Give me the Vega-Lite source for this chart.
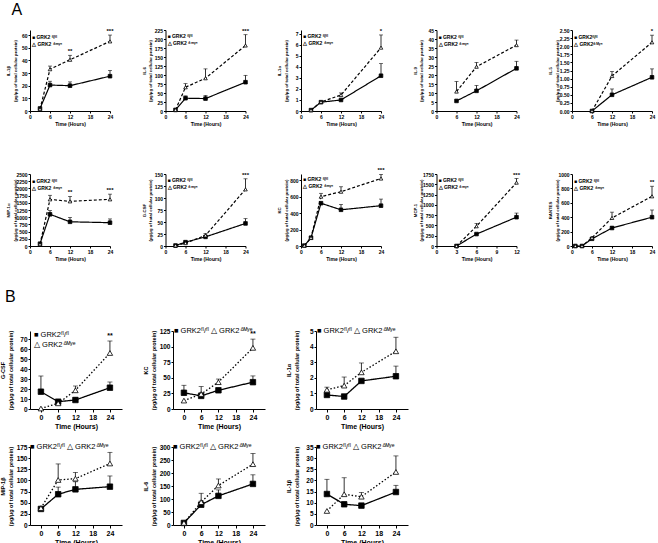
{
"$schema":"https://vega.github.io/schema/vega-lite/v6.json",
"padding":{"left":0,"top":1,"right":1,"bottom":1},
"data":{"values":[
{"p":"a1","g":"fl","t":3,"m":2},{"p":"a1","g":"fl","t":6,"m":20.5,"u":23.5},{"p":"a1","g":"fl","t":12,"m":20,"u":23},{"p":"a1","g":"fl","t":24,"m":27.5,"u":32},
{"p":"a1","g":"dm","t":3,"m":1.5},{"p":"a1","g":"dm","t":6,"m":33,"u":35.5},{"p":"a1","g":"dm","t":12,"m":40.5,"u":44,"s":"**"},{"p":"a1","g":"dm","t":24,"m":55,"u":60,"s":"***"},
{"p":"a2","g":"fl","t":3,"m":3},{"p":"a2","g":"fl","t":6,"m":35.5,"u":42},{"p":"a2","g":"fl","t":12,"m":34.5,"u":43},{"p":"a2","g":"fl","t":24,"m":80,"u":99},
{"p":"a2","g":"dm","t":3,"m":3},{"p":"a2","g":"dm","t":6,"m":66,"u":76},{"p":"a2","g":"dm","t":12,"m":91,"u":117},{"p":"a2","g":"dm","t":24,"m":182,"u":212,"s":"***"},
{"p":"a3","g":"fl","t":3,"m":0.08},{"p":"a3","g":"fl","t":6,"m":0.8},{"p":"a3","g":"fl","t":12,"m":1.0,"u":1.05},{"p":"a3","g":"fl","t":24,"m":3.2,"u":4.3},
{"p":"a3","g":"dm","t":3,"m":0.08},{"p":"a3","g":"dm","t":6,"m":0.82},{"p":"a3","g":"dm","t":12,"m":1.45,"u":1.64},{"p":"a3","g":"dm","t":24,"m":5.75,"u":6.9,"s":"*"},
{"p":"a4","g":"fl","t":6,"m":5.6},{"p":"a4","g":"fl","t":12,"m":11.2,"u":14.2},{"p":"a4","g":"fl","t":24,"m":23.7,"u":27.6},
{"p":"a4","g":"dm","t":6,"m":10.8,"u":16.4},{"p":"a4","g":"dm","t":12,"m":24.6,"u":27},{"p":"a4","g":"dm","t":24,"m":36.6,"u":39.4},
{"p":"a5","g":"fl","t":6,"m":0},{"p":"a5","g":"fl","t":12,"m":0.5,"u":0.68},{"p":"a5","g":"fl","t":24,"m":1.04,"u":1.3},
{"p":"a5","g":"dm","t":6,"m":0},{"p":"a5","g":"dm","t":12,"m":1.08,"u":1.22},{"p":"a5","g":"dm","t":24,"m":2.12,"u":2.34,"s":"*"},
{"p":"a6","g":"fl","t":3,"m":80},{"p":"a6","g":"fl","t":6,"m":1100,"u":1230},{"p":"a6","g":"fl","t":12,"m":840,"u":990},{"p":"a6","g":"fl","t":24,"m":810,"u":940},
{"p":"a6","g":"dm","t":3,"m":60},{"p":"a6","g":"dm","t":6,"m":1620,"u":1760},{"p":"a6","g":"dm","t":12,"m":1550,"u":1720,"s":"**"},{"p":"a6","g":"dm","t":24,"m":1620,"u":1800,"s":"***"},
{"p":"a7","g":"fl","t":3,"m":1},{"p":"a7","g":"fl","t":6,"m":8,"u":10},{"p":"a7","g":"fl","t":12,"m":19,"u":21},{"p":"a7","g":"fl","t":24,"m":47,"u":57},
{"p":"a7","g":"dm","t":3,"m":1},{"p":"a7","g":"dm","t":6,"m":6,"u":7},{"p":"a7","g":"dm","t":12,"m":22,"u":26},{"p":"a7","g":"dm","t":24,"m":118,"u":140,"s":"***"},
{"p":"a8","g":"fl","t":1,"m":5},{"p":"a8","g":"fl","t":3,"m":100},{"p":"a8","g":"fl","t":6,"m":520},{"p":"a8","g":"fl","t":12,"m":440,"u":505},{"p":"a8","g":"fl","t":24,"m":490,"u":570},
{"p":"a8","g":"dm","t":1,"m":5},{"p":"a8","g":"dm","t":3,"m":100,"u":120},{"p":"a8","g":"dm","t":6,"m":600,"u":640},{"p":"a8","g":"dm","t":12,"m":660,"u":720},{"p":"a8","g":"dm","t":24,"m":820,"u":870,"s":"***"},
{"p":"a9","g":"fl","t":3,"m":0},{"p":"a9","g":"fl","t":6,"m":290,"u":300},{"p":"a9","g":"fl","t":12,"m":700,"u":800},
{"p":"a9","g":"dm","t":3,"m":0},{"p":"a9","g":"dm","t":6,"m":480,"u":550},{"p":"a9","g":"dm","t":12,"m":1540,"u":1640,"s":"***"},
{"p":"a10","g":"fl","t":1,"m":0},{"p":"a10","g":"fl","t":3,"m":0},{"p":"a10","g":"fl","t":6,"m":100},{"p":"a10","g":"fl","t":12,"m":250,"u":270},{"p":"a10","g":"fl","t":24,"m":400,"u":500},
{"p":"a10","g":"dm","t":1,"m":0},{"p":"a10","g":"dm","t":3,"m":0},{"p":"a10","g":"dm","t":6,"m":115},{"p":"a10","g":"dm","t":12,"m":390,"u":470},{"p":"a10","g":"dm","t":24,"m":690,"u":830,"s":"**"},
{"p":"b1","g":"fl","t":0,"m":17.3,"u":33},{"p":"b1","g":"fl","t":6,"m":7.3,"u":9},{"p":"b1","g":"fl","t":12,"m":9,"u":11.5},{"p":"b1","g":"fl","t":24,"m":21.3,"u":27},
{"p":"b1","g":"dm","t":0,"m":0.5},{"p":"b1","g":"dm","t":6,"m":5.7,"u":7},{"p":"b1","g":"dm","t":12,"m":18.7,"u":23},{"p":"b1","g":"dm","t":24,"m":56,"u":68,"s":"**"},
{"p":"b2","g":"fl","t":0,"m":26,"u":38},{"p":"b2","g":"fl","t":6,"m":21,"u":36},{"p":"b2","g":"fl","t":12,"m":30,"u":32},{"p":"b2","g":"fl","t":24,"m":43,"u":53},
{"p":"b2","g":"dm","t":0,"m":13.5},{"p":"b2","g":"dm","t":6,"m":24,"u":26},{"p":"b2","g":"dm","t":12,"m":43,"u":48},{"p":"b2","g":"dm","t":24,"m":98,"u":112,"s":"**"},
{"p":"b3","g":"fl","t":0,"m":0.9,"u":1.0},{"p":"b3","g":"fl","t":6,"m":0.8,"u":0.9},{"p":"b3","g":"fl","t":12,"m":1.8,"u":1.9},{"p":"b3","g":"fl","t":24,"m":2.1,"u":2.75},
{"p":"b3","g":"dm","t":0,"m":1.23,"u":1.4},{"p":"b3","g":"dm","t":6,"m":1.5,"u":2.05},{"p":"b3","g":"dm","t":12,"m":2.35,"u":2.95},{"p":"b3","g":"dm","t":24,"m":3.7,"u":4.6},
{"p":"b4","g":"fl","t":0,"m":36,"u":38},{"p":"b4","g":"fl","t":6,"m":69,"u":85},{"p":"b4","g":"fl","t":12,"m":80,"u":97},{"p":"b4","g":"fl","t":24,"m":86,"u":110},
{"p":"b4","g":"dm","t":0,"m":38},{"p":"b4","g":"dm","t":6,"m":101,"u":137},{"p":"b4","g":"dm","t":12,"m":104,"u":118},{"p":"b4","g":"dm","t":24,"m":138,"u":163},
{"p":"b5","g":"fl","t":0,"m":8},{"p":"b5","g":"fl","t":6,"m":78,"u":92},{"p":"b5","g":"fl","t":12,"m":112,"u":135},{"p":"b5","g":"fl","t":24,"m":158,"u":193},
{"p":"b5","g":"dm","t":0,"m":8},{"p":"b5","g":"dm","t":6,"m":88,"u":122},{"p":"b5","g":"dm","t":12,"m":152,"u":177},{"p":"b5","g":"dm","t":24,"m":234,"u":275},
{"p":"b6","g":"fl","t":0,"m":13.9,"u":20.5},{"p":"b6","g":"fl","t":6,"m":9.3},{"p":"b6","g":"fl","t":12,"m":8.7},{"p":"b6","g":"fl","t":24,"m":14.8,"u":17.8},
{"p":"b6","g":"dm","t":0,"m":6.3},{"p":"b6","g":"dm","t":6,"m":13.8,"u":21.2},{"p":"b6","g":"dm","t":12,"m":12.7,"u":14.6},{"p":"b6","g":"dm","t":24,"m":23.8,"u":31}
]},
"spacing":27,
"resolve":{"scale":{"shape":"independent","fill":"independent","strokeDash":"independent"}},
"vconcat":[
{"title":{"text":"A","anchor":"start","fontSize":16,"fontWeight":"normal","font":"Liberation Sans","offset":10,"dx":5},
 "spacing":41,
 "resolve":{"scale":{"shape":"independent","fill":"independent","strokeDash":"independent"}},
 "vconcat":[
 {"bounds":"flush","spacing":55.5,"resolve":{"scale":{"shape":"independent","fill":"independent","strokeDash":"independent"}},"hconcat":[
  {"width":80,"height":81,"transform":[{"filter":"datum.p=='a1'"}],
   "title":{"text":["■ GRK2 ᶠˡ/ᶠˡ","△ GRK2 ᐞᵐʸᵉ"],"orient":"top","anchor":"start","frame":"group","baseline":"top","offset":-18.5,"dx":2,"fontSize":5,"lineHeight":7,"fontWeight":"bold","font":"Liberation Sans"},
   "encoding":{"x":{"field":"t","type":"quantitative","scale":{"domain":[0,24],"nice":false,"zero":false},"axis":{"values":[0,6,12,18,24],"title":"Time (Hours)"}},
    "y":{"field":"m","type":"quantitative","scale":{"domain":[0,64],"nice":false},"axis":{"values":[0,10,20,30,40,50,60],"format":"d","title":["IL-1β","(pg/μg of total cellular protein)"]}}},
   "layer":[
    {"mark":{"type":"line","color":"black","strokeWidth":1.2},"encoding":{"strokeDash":{"field":"g","type":"nominal","scale":{"domain":["fl","dm"],"range":[[1,0],[3,2]]},"legend":null}}},
    {"transform":[{"filter":"isValid(datum.u)"}],"mark":{"type":"rule","color":"black","strokeWidth":0.8},"encoding":{"y2":{"field":"u"}}},
    {"transform":[{"filter":"isValid(datum.u)"}],"mark":{"type":"tick","orient":"horizontal","color":"black","size":4,"thickness":0.8},"encoding":{"y":{"field":"u","type":"quantitative","scale":{"domain":[0,64],"nice":false}}}},
    {"mark":{"type":"point","filled":true,"opacity":1,"stroke":"black","strokeWidth":0.8,"size":13},"encoding":{
      "shape":{"field":"g","type":"nominal","scale":{"domain":["fl","dm"],"range":["square","triangle-up"]},"legend":null},
      "fill":{"field":"g","type":"nominal","scale":{"domain":["fl","dm"],"range":["black","white"]},"legend":null}}},
    {"transform":[{"filter":"isValid(datum.s)"}],"mark":{"type":"text","dy":-4,"fontSize":6,"fontWeight":"bold"},"encoding":{"y":{"field":"u","type":"quantitative","scale":{"domain":[0,64],"nice":false}},"text":{"field":"s"}}}
   ]},
  {"width":80,"height":81,"transform":[{"filter":"datum.p=='a2'"}],
   "title":{"text":["■ GRK2 ᶠˡ/ᶠˡ","△ GRK2 ᐞᵐʸᵉ"],"orient":"top","anchor":"start","frame":"group","baseline":"top","offset":-18.5,"dx":2,"fontSize":5,"lineHeight":7,"fontWeight":"bold","font":"Liberation Sans"},
   "encoding":{"x":{"field":"t","type":"quantitative","scale":{"domain":[0,24],"nice":false,"zero":false},"axis":{"values":[0,6,12,18,24],"title":"Time (Hours)"}},
    "y":{"field":"m","type":"quantitative","scale":{"domain":[0,225],"nice":false},"axis":{"values":[0,25,50,75,100,125,150,175,200,225],"format":"d","title":["IL-6","(pg/μg of total cellular protein)"]}}},
   "layer":[
    {"mark":{"type":"line","color":"black","strokeWidth":1.2},"encoding":{"strokeDash":{"field":"g","type":"nominal","scale":{"domain":["fl","dm"],"range":[[1,0],[3,2]]},"legend":null}}},
    {"transform":[{"filter":"isValid(datum.u)"}],"mark":{"type":"rule","color":"black","strokeWidth":0.8},"encoding":{"y2":{"field":"u"}}},
    {"transform":[{"filter":"isValid(datum.u)"}],"mark":{"type":"tick","orient":"horizontal","color":"black","size":4,"thickness":0.8},"encoding":{"y":{"field":"u","type":"quantitative","scale":{"domain":[0,225],"nice":false}}}},
    {"mark":{"type":"point","filled":true,"opacity":1,"stroke":"black","strokeWidth":0.8,"size":13},"encoding":{
      "shape":{"field":"g","type":"nominal","scale":{"domain":["fl","dm"],"range":["square","triangle-up"]},"legend":null},
      "fill":{"field":"g","type":"nominal","scale":{"domain":["fl","dm"],"range":["black","white"]},"legend":null}}},
    {"transform":[{"filter":"isValid(datum.s)"}],"mark":{"type":"text","dy":-4,"fontSize":6,"fontWeight":"bold"},"encoding":{"y":{"field":"u","type":"quantitative","scale":{"domain":[0,225],"nice":false}},"text":{"field":"s"}}}
   ]},
  {"width":80,"height":81,"transform":[{"filter":"datum.p=='a3'"}],
   "title":{"text":["■ GRK2 ᶠˡ/ᶠˡ","△ GRK2 ᐞᵐʸᵉ"],"orient":"top","anchor":"start","frame":"group","baseline":"top","offset":-18.5,"dx":2,"fontSize":5,"lineHeight":7,"fontWeight":"bold","font":"Liberation Sans"},
   "encoding":{"x":{"field":"t","type":"quantitative","scale":{"domain":[0,24],"nice":false,"zero":false},"axis":{"values":[0,6,12,18,24],"title":"Time (Hours)"}},
    "y":{"field":"m","type":"quantitative","scale":{"domain":[0,7.35],"nice":false},"axis":{"values":[0,1,2,3,4,5,6,7],"format":"d","title":["IL-1α","(pg/μg of total cellular protein)"]}}},
   "layer":[
    {"mark":{"type":"line","color":"black","strokeWidth":1.2},"encoding":{"strokeDash":{"field":"g","type":"nominal","scale":{"domain":["fl","dm"],"range":[[1,0],[3,2]]},"legend":null}}},
    {"transform":[{"filter":"isValid(datum.u)"}],"mark":{"type":"rule","color":"black","strokeWidth":0.8},"encoding":{"y2":{"field":"u"}}},
    {"transform":[{"filter":"isValid(datum.u)"}],"mark":{"type":"tick","orient":"horizontal","color":"black","size":4,"thickness":0.8},"encoding":{"y":{"field":"u","type":"quantitative","scale":{"domain":[0,7.35],"nice":false}}}},
    {"mark":{"type":"point","filled":true,"opacity":1,"stroke":"black","strokeWidth":0.8,"size":13},"encoding":{
      "shape":{"field":"g","type":"nominal","scale":{"domain":["fl","dm"],"range":["square","triangle-up"]},"legend":null},
      "fill":{"field":"g","type":"nominal","scale":{"domain":["fl","dm"],"range":["black","white"]},"legend":null}}},
    {"transform":[{"filter":"isValid(datum.s)"}],"mark":{"type":"text","dy":-4,"fontSize":6,"fontWeight":"bold"},"encoding":{"y":{"field":"u","type":"quantitative","scale":{"domain":[0,7.35],"nice":false}},"text":{"field":"s"}}}
   ]},
  {"width":80,"height":81,"transform":[{"filter":"datum.p=='a4'"}],
   "title":{"text":["■ GRK2 ᶠˡ/ᶠˡ","△ GRK2 ᐞᵐʸᵉ"],"orient":"top","anchor":"start","frame":"group","baseline":"top","offset":-18.5,"dx":2,"fontSize":5,"lineHeight":7,"fontWeight":"bold","font":"Liberation Sans"},
   "encoding":{"x":{"field":"t","type":"quantitative","scale":{"domain":[0,24],"nice":false,"zero":false},"axis":{"values":[0,6,12,18,24],"title":"Time (Hours)"}},
    "y":{"field":"m","type":"quantitative","scale":{"domain":[0,45],"nice":false},"axis":{"values":[0,5,10,15,20,25,30,35,40,45],"format":"d","title":["IL-9","(pg/μg of total cellular protein)"]}}},
   "layer":[
    {"mark":{"type":"line","color":"black","strokeWidth":1.2},"encoding":{"strokeDash":{"field":"g","type":"nominal","scale":{"domain":["fl","dm"],"range":[[1,0],[3,2]]},"legend":null}}},
    {"transform":[{"filter":"isValid(datum.u)"}],"mark":{"type":"rule","color":"black","strokeWidth":0.8},"encoding":{"y2":{"field":"u"}}},
    {"transform":[{"filter":"isValid(datum.u)"}],"mark":{"type":"tick","orient":"horizontal","color":"black","size":4,"thickness":0.8},"encoding":{"y":{"field":"u","type":"quantitative","scale":{"domain":[0,45],"nice":false}}}},
    {"mark":{"type":"point","filled":true,"opacity":1,"stroke":"black","strokeWidth":0.8,"size":13},"encoding":{
      "shape":{"field":"g","type":"nominal","scale":{"domain":["fl","dm"],"range":["square","triangle-up"]},"legend":null},
      "fill":{"field":"g","type":"nominal","scale":{"domain":["fl","dm"],"range":["black","white"]},"legend":null}}}
   ]},
  {"width":80,"height":81,"transform":[{"filter":"datum.p=='a5'"}],
   "title":{"text":["■ GRK2ᶠˡ/ᶠˡ","△ GRK2ᐞᴹʸᵉ"],"orient":"top","anchor":"start","frame":"group","baseline":"top","offset":-18.5,"dx":2,"fontSize":5,"lineHeight":7,"fontWeight":"bold","font":"Liberation Sans"},
   "encoding":{"x":{"field":"t","type":"quantitative","scale":{"domain":[0,24],"nice":false,"zero":false},"axis":{"values":[0,6,12,18,24],"title":"Time (Hours)"}},
    "y":{"field":"m","type":"quantitative","scale":{"domain":[0,2.5],"nice":false},"axis":{"values":[0,0.25,0.5,0.75,1,1.25,1.5,1.75,2,2.25,2.5],"format":".2f","title":["IL-5","(pg/μg of total cellular protein)"]}}},
   "layer":[
    {"mark":{"type":"line","color":"black","strokeWidth":1.2},"encoding":{"strokeDash":{"field":"g","type":"nominal","scale":{"domain":["fl","dm"],"range":[[1,0],[3,2]]},"legend":null}}},
    {"transform":[{"filter":"isValid(datum.u)"}],"mark":{"type":"rule","color":"black","strokeWidth":0.8},"encoding":{"y2":{"field":"u"}}},
    {"transform":[{"filter":"isValid(datum.u)"}],"mark":{"type":"tick","orient":"horizontal","color":"black","size":4,"thickness":0.8},"encoding":{"y":{"field":"u","type":"quantitative","scale":{"domain":[0,2.5],"nice":false}}}},
    {"mark":{"type":"point","filled":true,"opacity":1,"stroke":"black","strokeWidth":0.8,"size":13},"encoding":{
      "shape":{"field":"g","type":"nominal","scale":{"domain":["fl","dm"],"range":["square","triangle-up"]},"legend":null},
      "fill":{"field":"g","type":"nominal","scale":{"domain":["fl","dm"],"range":["black","white"]},"legend":null}}},
    {"transform":[{"filter":"isValid(datum.s)"}],"mark":{"type":"text","dy":-4,"fontSize":6,"fontWeight":"bold"},"encoding":{"y":{"field":"u","type":"quantitative","scale":{"domain":[0,2.5],"nice":false}},"text":{"field":"s"}}}
   ]}
 ]},
 {"bounds":"flush","spacing":55.5,"resolve":{"scale":{"shape":"independent","fill":"independent","strokeDash":"independent"}},"hconcat":[
  {"width":80,"height":72,"transform":[{"filter":"datum.p=='a6'"}],
   "title":{"text":["■ GRK2 ᶠˡ/ᶠˡ","△ GRK2 ᐞᵐʸᵉ"],"orient":"top","anchor":"start","frame":"group","baseline":"top","offset":-18.5,"dx":2,"fontSize":5,"lineHeight":7,"fontWeight":"bold","font":"Liberation Sans"},
   "encoding":{"x":{"field":"t","type":"quantitative","scale":{"domain":[0,24],"nice":false,"zero":false},"axis":{"values":[0,6,12,18,24],"title":"Time (Hours)"}},
    "y":{"field":"m","type":"quantitative","scale":{"domain":[0,2500],"nice":false},"axis":{"values":[0,250,500,750,1000,1250,1500,1750,2000,2250,2500],"format":"d","title":["MIP-1α","(pg/μg of total cellular protein)"]}}},
   "layer":[
    {"mark":{"type":"line","color":"black","strokeWidth":1.2},"encoding":{"strokeDash":{"field":"g","type":"nominal","scale":{"domain":["fl","dm"],"range":[[1,0],[3,2]]},"legend":null}}},
    {"transform":[{"filter":"isValid(datum.u)"}],"mark":{"type":"rule","color":"black","strokeWidth":0.8},"encoding":{"y2":{"field":"u"}}},
    {"transform":[{"filter":"isValid(datum.u)"}],"mark":{"type":"tick","orient":"horizontal","color":"black","size":4,"thickness":0.8},"encoding":{"y":{"field":"u","type":"quantitative","scale":{"domain":[0,2500],"nice":false}}}},
    {"mark":{"type":"point","filled":true,"opacity":1,"stroke":"black","strokeWidth":0.8,"size":13},"encoding":{
      "shape":{"field":"g","type":"nominal","scale":{"domain":["fl","dm"],"range":["square","triangle-up"]},"legend":null},
      "fill":{"field":"g","type":"nominal","scale":{"domain":["fl","dm"],"range":["black","white"]},"legend":null}}},
    {"transform":[{"filter":"isValid(datum.s)"}],"mark":{"type":"text","dy":-4,"fontSize":6,"fontWeight":"bold"},"encoding":{"y":{"field":"u","type":"quantitative","scale":{"domain":[0,2500],"nice":false}},"text":{"field":"s"}}}
   ]},
  {"width":80,"height":72,"transform":[{"filter":"datum.p=='a7'"}],
   "title":{"text":["■ GRK2 ᶠˡ/ᶠˡ","△ GRK2 ᐞᵐʸᵉ"],"orient":"top","anchor":"start","frame":"group","baseline":"top","offset":-18.5,"dx":2,"fontSize":5,"lineHeight":7,"fontWeight":"bold","font":"Liberation Sans"},
   "encoding":{"x":{"field":"t","type":"quantitative","scale":{"domain":[0,24],"nice":false,"zero":false},"axis":{"values":[0,6,12,18,24],"title":"Time (Hours)"}},
    "y":{"field":"m","type":"quantitative","scale":{"domain":[0,150],"nice":false},"axis":{"values":[0,25,50,75,100,125,150],"format":"d","title":["G-CSF","(pg/μg of total cellular protein)"]}}},
   "layer":[
    {"mark":{"type":"line","color":"black","strokeWidth":1.2},"encoding":{"strokeDash":{"field":"g","type":"nominal","scale":{"domain":["fl","dm"],"range":[[1,0],[3,2]]},"legend":null}}},
    {"transform":[{"filter":"isValid(datum.u)"}],"mark":{"type":"rule","color":"black","strokeWidth":0.8},"encoding":{"y2":{"field":"u"}}},
    {"transform":[{"filter":"isValid(datum.u)"}],"mark":{"type":"tick","orient":"horizontal","color":"black","size":4,"thickness":0.8},"encoding":{"y":{"field":"u","type":"quantitative","scale":{"domain":[0,150],"nice":false}}}},
    {"mark":{"type":"point","filled":true,"opacity":1,"stroke":"black","strokeWidth":0.8,"size":13},"encoding":{
      "shape":{"field":"g","type":"nominal","scale":{"domain":["fl","dm"],"range":["square","triangle-up"]},"legend":null},
      "fill":{"field":"g","type":"nominal","scale":{"domain":["fl","dm"],"range":["black","white"]},"legend":null}}},
    {"transform":[{"filter":"isValid(datum.s)"}],"mark":{"type":"text","dy":-4,"fontSize":6,"fontWeight":"bold"},"encoding":{"y":{"field":"u","type":"quantitative","scale":{"domain":[0,150],"nice":false}},"text":{"field":"s"}}}
   ]},
  {"width":80,"height":72,"transform":[{"filter":"datum.p=='a8'"}],
   "title":{"text":["■ GRK2 ᶠˡ/ᶠˡ","△ GRK2 ᐞᵐʸᵉ"],"orient":"top","anchor":"start","frame":"group","baseline":"top","offset":-22,"dx":2,"fontSize":5,"lineHeight":7,"fontWeight":"bold","font":"Liberation Sans"},
   "encoding":{"x":{"field":"t","type":"quantitative","scale":{"domain":[0,24],"nice":false,"zero":false},"axis":{"values":[0,6,12,18,24],"title":"Time (Hours)"}},
    "y":{"field":"m","type":"quantitative","scale":{"domain":[0,875],"nice":false},"axis":{"values":[0,200,400,600,800],"format":"d","title":["KC","(pg/μg of total cellular protein)"]}}},
   "layer":[
    {"mark":{"type":"line","color":"black","strokeWidth":1.2},"encoding":{"strokeDash":{"field":"g","type":"nominal","scale":{"domain":["fl","dm"],"range":[[1,0],[3,2]]},"legend":null}}},
    {"transform":[{"filter":"isValid(datum.u)"}],"mark":{"type":"rule","color":"black","strokeWidth":0.8},"encoding":{"y2":{"field":"u"}}},
    {"transform":[{"filter":"isValid(datum.u)"}],"mark":{"type":"tick","orient":"horizontal","color":"black","size":4,"thickness":0.8},"encoding":{"y":{"field":"u","type":"quantitative","scale":{"domain":[0,875],"nice":false}}}},
    {"mark":{"type":"point","filled":true,"opacity":1,"stroke":"black","strokeWidth":0.8,"size":13},"encoding":{
      "shape":{"field":"g","type":"nominal","scale":{"domain":["fl","dm"],"range":["square","triangle-up"]},"legend":null},
      "fill":{"field":"g","type":"nominal","scale":{"domain":["fl","dm"],"range":["black","white"]},"legend":null}}},
    {"transform":[{"filter":"isValid(datum.s)"}],"mark":{"type":"text","dy":-4,"fontSize":6,"fontWeight":"bold"},"encoding":{"y":{"field":"u","type":"quantitative","scale":{"domain":[0,875],"nice":false}},"text":{"field":"s"}}}
   ]},
  {"width":80,"height":72,"transform":[{"filter":"datum.p=='a9'"}],
   "title":{"text":["■ GRK2 ᶠˡ/ᶠˡ","△ GRK2 ᐞᵐʸᵉ"],"orient":"top","anchor":"start","frame":"group","baseline":"top","offset":-18.5,"dx":2,"fontSize":5,"lineHeight":7,"fontWeight":"bold","font":"Liberation Sans"},
   "encoding":{"x":{"field":"t","type":"quantitative","scale":{"domain":[0,12],"nice":false,"zero":false},"axis":{"values":[0,3,6,9,12],"title":"Time (Hours)"}},
    "y":{"field":"m","type":"quantitative","scale":{"domain":[0,1750],"nice":false},"axis":{"values":[0,250,500,750,1000,1250,1500,1750],"format":"d","title":["MCP-1","(pg/μg of total cellular protein)"]}}},
   "layer":[
    {"mark":{"type":"line","color":"black","strokeWidth":1.2},"encoding":{"strokeDash":{"field":"g","type":"nominal","scale":{"domain":["fl","dm"],"range":[[1,0],[3,2]]},"legend":null}}},
    {"transform":[{"filter":"isValid(datum.u)"}],"mark":{"type":"rule","color":"black","strokeWidth":0.8},"encoding":{"y2":{"field":"u"}}},
    {"transform":[{"filter":"isValid(datum.u)"}],"mark":{"type":"tick","orient":"horizontal","color":"black","size":4,"thickness":0.8},"encoding":{"y":{"field":"u","type":"quantitative","scale":{"domain":[0,1750],"nice":false}}}},
    {"mark":{"type":"point","filled":true,"opacity":1,"stroke":"black","strokeWidth":0.8,"size":13},"encoding":{
      "shape":{"field":"g","type":"nominal","scale":{"domain":["fl","dm"],"range":["square","triangle-up"]},"legend":null},
      "fill":{"field":"g","type":"nominal","scale":{"domain":["fl","dm"],"range":["black","white"]},"legend":null}}},
    {"transform":[{"filter":"isValid(datum.s)"}],"mark":{"type":"text","dy":-4,"fontSize":6,"fontWeight":"bold"},"encoding":{"y":{"field":"u","type":"quantitative","scale":{"domain":[0,1750],"nice":false}},"text":{"field":"s"}}}
   ]},
  {"width":80,"height":72,"transform":[{"filter":"datum.p=='a10'"}],
   "title":{"text":["■ GRK2 ᶠˡ/ᶠˡ","△ GRK2 ᐞᵐʸᵉ"],"orient":"top","anchor":"start","frame":"group","baseline":"top","offset":-18.5,"dx":2,"fontSize":5,"lineHeight":7,"fontWeight":"bold","font":"Liberation Sans"},
   "encoding":{"x":{"field":"t","type":"quantitative","scale":{"domain":[0,24],"nice":false,"zero":false},"axis":{"values":[0,6,12,18,24],"title":"Time (Hours)"}},
    "y":{"field":"m","type":"quantitative","scale":{"domain":[0,1000],"nice":false},"axis":{"values":[0,200,400,600,800,1000],"format":"d","title":["RANTES","(pg/μg of total cellular protein)"]}}},
   "layer":[
    {"mark":{"type":"line","color":"black","strokeWidth":1.2},"encoding":{"strokeDash":{"field":"g","type":"nominal","scale":{"domain":["fl","dm"],"range":[[1,0],[3,2]]},"legend":null}}},
    {"transform":[{"filter":"isValid(datum.u)"}],"mark":{"type":"rule","color":"black","strokeWidth":0.8},"encoding":{"y2":{"field":"u"}}},
    {"transform":[{"filter":"isValid(datum.u)"}],"mark":{"type":"tick","orient":"horizontal","color":"black","size":4,"thickness":0.8},"encoding":{"y":{"field":"u","type":"quantitative","scale":{"domain":[0,1000],"nice":false}}}},
    {"mark":{"type":"point","filled":true,"opacity":1,"stroke":"black","strokeWidth":0.8,"size":13},"encoding":{
      "shape":{"field":"g","type":"nominal","scale":{"domain":["fl","dm"],"range":["square","triangle-up"]},"legend":null},
      "fill":{"field":"g","type":"nominal","scale":{"domain":["fl","dm"],"range":["black","white"]},"legend":null}}},
    {"transform":[{"filter":"isValid(datum.s)"}],"mark":{"type":"text","dy":-4,"fontSize":6,"fontWeight":"bold"},"encoding":{"y":{"field":"u","type":"quantitative","scale":{"domain":[0,1000],"nice":false}},"text":{"field":"s"}}}
   ]}
 ]}
 ]},
{"title":{"text":"B","anchor":"start","fontSize":16,"fontWeight":"normal","font":"Liberation Sans","offset":22,"dx":5},
 "spacing":13,
 "resolve":{"scale":{"shape":"independent","fill":"independent","strokeDash":"independent"}},
 "vconcat":[
 {"bounds":"flush","spacing":51,"resolve":{"scale":{"shape":"independent","fill":"independent","strokeDash":"independent"}},"hconcat":[
  {"width":92,"height":78,"transform":[{"filter":"datum.p=='b1'"}],
   "title":{"text":["■ GRK2ᶠˡ/ᶠˡ","△ GRK2ᐞᴹʸᵉ"],"orient":"top","anchor":"start","frame":"group","baseline":"top","offset":-18,"dx":4,"fontSize":7.5,"lineHeight":10,"fontWeight":"normal","font":"Liberation Sans"},
   "encoding":{"x":{"field":"t","type":"quantitative","scale":{"domain":[-3.8,28.2],"nice":false,"zero":false},"axis":{"values":[0,6,12,18,24],"title":"Time (Hours)","labelFontSize":7,"titleFontSize":7,"tickSize":3}},
    "y":{"field":"m","type":"quantitative","scale":{"domain":[0,78],"nice":false},"axis":{"values":[0,10,20,30,40,50,60,70],"format":"d","labelFontSize":6.5,"titleFontSize":5.5,"tickSize":2,"minExtent":13,"maxExtent":13,"titleLineHeight":8,"titlePadding":4,"title":["G-CSF","(pg/μg of total cellular protein)"]}}},
   "layer":[
    {"mark":{"type":"line","color":"black","strokeWidth":1.3},"encoding":{"strokeDash":{"field":"g","type":"nominal","scale":{"domain":["fl","dm"],"range":[[1,0],[1.5,2]]},"legend":null}}},
    {"transform":[{"filter":"isValid(datum.u)"}],"mark":{"type":"rule","color":"black","strokeWidth":0.8},"encoding":{"y2":{"field":"u"}}},
    {"transform":[{"filter":"isValid(datum.u)"}],"mark":{"type":"tick","orient":"horizontal","color":"black","size":5,"thickness":0.8},"encoding":{"y":{"field":"u","type":"quantitative","scale":{"domain":[0,78],"nice":false}}}},
    {"mark":{"type":"point","filled":true,"opacity":1,"stroke":"black","strokeWidth":0.8,"size":30},"encoding":{
      "shape":{"field":"g","type":"nominal","scale":{"domain":["fl","dm"],"range":["square","triangle-up"]},"legend":null},
      "fill":{"field":"g","type":"nominal","scale":{"domain":["fl","dm"],"range":["black","white"]},"legend":null}}},
    {"transform":[{"filter":"isValid(datum.s)"}],"mark":{"type":"text","dy":-5,"fontSize":7,"fontWeight":"bold"},"encoding":{"y":{"field":"u","type":"quantitative","scale":{"domain":[0,78],"nice":false}},"text":{"field":"s"}}}
   ]},
  {"width":92,"height":78,"transform":[{"filter":"datum.p=='b2'"}],
   "title":{"text":"■ GRK2ᶠˡ/ᶠˡ   △ GRK2ᐞᴹʸᵉ","orient":"top","anchor":"start","frame":"group","baseline":"top","offset":-6,"dx":1,"fontSize":7.5,"fontWeight":"normal","font":"Liberation Sans"},
   "encoding":{"x":{"field":"t","type":"quantitative","scale":{"domain":[-3.8,28.2],"nice":false,"zero":false},"axis":{"values":[0,6,12,18,24],"title":"Time (Hours)","labelFontSize":7,"titleFontSize":7,"tickSize":3}},
    "y":{"field":"m","type":"quantitative","scale":{"domain":[0,125],"nice":false},"axis":{"values":[0,25,50,75,100,125],"format":"d","labelFontSize":6.5,"titleFontSize":5.5,"tickSize":2,"minExtent":13,"maxExtent":13,"titleLineHeight":8,"titlePadding":4,"title":["KC","(pg/μg of total cellular protein)"]}}},
   "layer":[
    {"mark":{"type":"line","color":"black","strokeWidth":1.3},"encoding":{"strokeDash":{"field":"g","type":"nominal","scale":{"domain":["fl","dm"],"range":[[1,0],[1.5,2]]},"legend":null}}},
    {"transform":[{"filter":"isValid(datum.u)"}],"mark":{"type":"rule","color":"black","strokeWidth":0.8},"encoding":{"y2":{"field":"u"}}},
    {"transform":[{"filter":"isValid(datum.u)"}],"mark":{"type":"tick","orient":"horizontal","color":"black","size":5,"thickness":0.8},"encoding":{"y":{"field":"u","type":"quantitative","scale":{"domain":[0,125],"nice":false}}}},
    {"mark":{"type":"point","filled":true,"opacity":1,"stroke":"black","strokeWidth":0.8,"size":30},"encoding":{
      "shape":{"field":"g","type":"nominal","scale":{"domain":["fl","dm"],"range":["square","triangle-up"]},"legend":null},
      "fill":{"field":"g","type":"nominal","scale":{"domain":["fl","dm"],"range":["black","white"]},"legend":null}}},
    {"transform":[{"filter":"isValid(datum.s)"}],"mark":{"type":"text","dy":-5,"fontSize":7,"fontWeight":"bold"},"encoding":{"y":{"field":"u","type":"quantitative","scale":{"domain":[0,125],"nice":false}},"text":{"field":"s"}}}
   ]},
  {"width":92,"height":78,"transform":[{"filter":"datum.p=='b3'"}],
   "title":{"text":"■ GRK2ᶠˡ/ᶠˡ   △ GRK2ᐞᴹʸᵉ","orient":"top","anchor":"start","frame":"group","baseline":"top","offset":-6,"dx":1,"fontSize":7.5,"fontWeight":"normal","font":"Liberation Sans"},
   "encoding":{"x":{"field":"t","type":"quantitative","scale":{"domain":[-3.8,28.2],"nice":false,"zero":false},"axis":{"values":[0,6,12,18,24],"title":"Time (Hours)","labelFontSize":7,"titleFontSize":7,"tickSize":3}},
    "y":{"field":"m","type":"quantitative","scale":{"domain":[0,5],"nice":false},"axis":{"values":[0,1,2,3,4,5],"format":"d","labelFontSize":6.5,"titleFontSize":5.5,"tickSize":2,"minExtent":13,"maxExtent":13,"titleLineHeight":8,"titlePadding":4,"title":["IL-1α","(pg/μg of total cellular protein)"]}}},
   "layer":[
    {"mark":{"type":"line","color":"black","strokeWidth":1.3},"encoding":{"strokeDash":{"field":"g","type":"nominal","scale":{"domain":["fl","dm"],"range":[[1,0],[1.5,2]]},"legend":null}}},
    {"transform":[{"filter":"isValid(datum.u)"}],"mark":{"type":"rule","color":"black","strokeWidth":0.8},"encoding":{"y2":{"field":"u"}}},
    {"transform":[{"filter":"isValid(datum.u)"}],"mark":{"type":"tick","orient":"horizontal","color":"black","size":5,"thickness":0.8},"encoding":{"y":{"field":"u","type":"quantitative","scale":{"domain":[0,5],"nice":false}}}},
    {"mark":{"type":"point","filled":true,"opacity":1,"stroke":"black","strokeWidth":0.8,"size":30},"encoding":{
      "shape":{"field":"g","type":"nominal","scale":{"domain":["fl","dm"],"range":["square","triangle-up"]},"legend":null},
      "fill":{"field":"g","type":"nominal","scale":{"domain":["fl","dm"],"range":["black","white"]},"legend":null}}}
   ]}
 ]},
 {"bounds":"flush","spacing":51,"resolve":{"scale":{"shape":"independent","fill":"independent","strokeDash":"independent"}},"hconcat":[
  {"width":92,"height":78,"transform":[{"filter":"datum.p=='b4'"}],
   "title":{"text":"■ GRK2ᶠˡ/ᶠˡ   △ GRK2ᐞᴹʸᵉ","orient":"top","anchor":"start","frame":"group","baseline":"top","offset":-6,"dx":0,"fontSize":7.5,"fontWeight":"normal","font":"Liberation Sans"},
   "encoding":{"x":{"field":"t","type":"quantitative","scale":{"domain":[-3.8,28.2],"nice":false,"zero":false},"axis":{"values":[0,6,12,18,24],"title":"Time (Hours)","labelFontSize":7,"titleFontSize":7,"tickSize":3}},
    "y":{"field":"m","type":"quantitative","scale":{"domain":[0,175],"nice":false},"axis":{"values":[0,25,50,75,100,125,150,175],"format":"d","labelFontSize":6.5,"titleFontSize":5.5,"tickSize":2,"minExtent":13,"maxExtent":13,"titleLineHeight":8,"titlePadding":4,"title":["MIP-1β","(pg/μg of total cellular protein)"]}}},
   "layer":[
    {"mark":{"type":"line","color":"black","strokeWidth":1.3},"encoding":{"strokeDash":{"field":"g","type":"nominal","scale":{"domain":["fl","dm"],"range":[[1,0],[1.5,2]]},"legend":null}}},
    {"transform":[{"filter":"isValid(datum.u)"}],"mark":{"type":"rule","color":"black","strokeWidth":0.8},"encoding":{"y2":{"field":"u"}}},
    {"transform":[{"filter":"isValid(datum.u)"}],"mark":{"type":"tick","orient":"horizontal","color":"black","size":5,"thickness":0.8},"encoding":{"y":{"field":"u","type":"quantitative","scale":{"domain":[0,175],"nice":false}}}},
    {"mark":{"type":"point","filled":true,"opacity":1,"stroke":"black","strokeWidth":0.8,"size":30},"encoding":{
      "shape":{"field":"g","type":"nominal","scale":{"domain":["fl","dm"],"range":["square","triangle-up"]},"legend":null},
      "fill":{"field":"g","type":"nominal","scale":{"domain":["fl","dm"],"range":["black","white"]},"legend":null}}}
   ]},
  {"width":92,"height":78,"transform":[{"filter":"datum.p=='b5'"}],
   "title":{"text":"■ GRK2ᶠˡ/ᶠˡ   △ GRK2ᐞᴹʸᵉ","orient":"top","anchor":"start","frame":"group","baseline":"top","offset":-6,"dx":0,"fontSize":7.5,"fontWeight":"normal","font":"Liberation Sans"},
   "encoding":{"x":{"field":"t","type":"quantitative","scale":{"domain":[-3.8,28.2],"nice":false,"zero":false},"axis":{"values":[0,6,12,18,24],"title":"Time (Hours)","labelFontSize":7,"titleFontSize":7,"tickSize":3}},
    "y":{"field":"m","type":"quantitative","scale":{"domain":[0,300],"nice":false},"axis":{"values":[0,50,100,150,200,250,300],"format":"d","labelFontSize":6.5,"titleFontSize":5.5,"tickSize":2,"minExtent":13,"maxExtent":13,"titleLineHeight":8,"titlePadding":4,"title":["IL-6","(pg/μg of total cellular protein)"]}}},
   "layer":[
    {"mark":{"type":"line","color":"black","strokeWidth":1.3},"encoding":{"strokeDash":{"field":"g","type":"nominal","scale":{"domain":["fl","dm"],"range":[[1,0],[1.5,2]]},"legend":null}}},
    {"transform":[{"filter":"isValid(datum.u)"}],"mark":{"type":"rule","color":"black","strokeWidth":0.8},"encoding":{"y2":{"field":"u"}}},
    {"transform":[{"filter":"isValid(datum.u)"}],"mark":{"type":"tick","orient":"horizontal","color":"black","size":5,"thickness":0.8},"encoding":{"y":{"field":"u","type":"quantitative","scale":{"domain":[0,300],"nice":false}}}},
    {"mark":{"type":"point","filled":true,"opacity":1,"stroke":"black","strokeWidth":0.8,"size":30},"encoding":{
      "shape":{"field":"g","type":"nominal","scale":{"domain":["fl","dm"],"range":["square","triangle-up"]},"legend":null},
      "fill":{"field":"g","type":"nominal","scale":{"domain":["fl","dm"],"range":["black","white"]},"legend":null}}}
   ]},
  {"width":92,"height":78,"transform":[{"filter":"datum.p=='b6'"}],
   "title":{"text":"■ GRK2ᶠˡ/ᶠˡ   △ GRK2ᐞᴹʸᵉ","orient":"top","anchor":"start","frame":"group","baseline":"top","offset":-6,"dx":0,"fontSize":7.5,"fontWeight":"normal","font":"Liberation Sans"},
   "encoding":{"x":{"field":"t","type":"quantitative","scale":{"domain":[-3.8,28.2],"nice":false,"zero":false},"axis":{"values":[0,6,12,18,24],"title":"Time (Hours)","labelFontSize":7,"titleFontSize":7,"tickSize":3}},
    "y":{"field":"m","type":"quantitative","scale":{"domain":[0,35],"nice":false},"axis":{"values":[0,5,10,15,20,25,30,35],"format":"d","labelFontSize":6.5,"titleFontSize":5.5,"tickSize":2,"minExtent":13,"maxExtent":13,"titleLineHeight":8,"titlePadding":4,"title":["IL-1β","(pg/μg of total cellular protein)"]}}},
   "layer":[
    {"mark":{"type":"line","color":"black","strokeWidth":1.3},"encoding":{"strokeDash":{"field":"g","type":"nominal","scale":{"domain":["fl","dm"],"range":[[1,0],[1.5,2]]},"legend":null}}},
    {"transform":[{"filter":"isValid(datum.u)"}],"mark":{"type":"rule","color":"black","strokeWidth":0.8},"encoding":{"y2":{"field":"u"}}},
    {"transform":[{"filter":"isValid(datum.u)"}],"mark":{"type":"tick","orient":"horizontal","color":"black","size":5,"thickness":0.8},"encoding":{"y":{"field":"u","type":"quantitative","scale":{"domain":[0,35],"nice":false}}}},
    {"mark":{"type":"point","filled":true,"opacity":1,"stroke":"black","strokeWidth":0.8,"size":30},"encoding":{
      "shape":{"field":"g","type":"nominal","scale":{"domain":["fl","dm"],"range":["square","triangle-up"]},"legend":null},
      "fill":{"field":"g","type":"nominal","scale":{"domain":["fl","dm"],"range":["black","white"]},"legend":null}}}
   ]}
 ]}
 ]}
],
"config":{
 "view":{"stroke":null},
 "font":"Liberation Sans",
 "axis":{"domainColor":"black","tickColor":"black","labelColor":"black","titleColor":"black","labelFont":"Liberation Sans","titleFont":"Liberation Sans","labelFontWeight":"bold","titleFontWeight":"bold","labelFontSize":5,"titleFontSize":5,"tickSize":2,"grid":false,"labelPadding":1,"titlePadding":2,"labelFlush":false,"labelOverlap":false,"domainWidth":1,"tickWidth":1},
 "axisY":{"minExtent":12,"maxExtent":12,"titleLineHeight":6.5,"titlePadding":1,"titleFontSize":4.3},
 "title":{"color":"black"}
}
}
